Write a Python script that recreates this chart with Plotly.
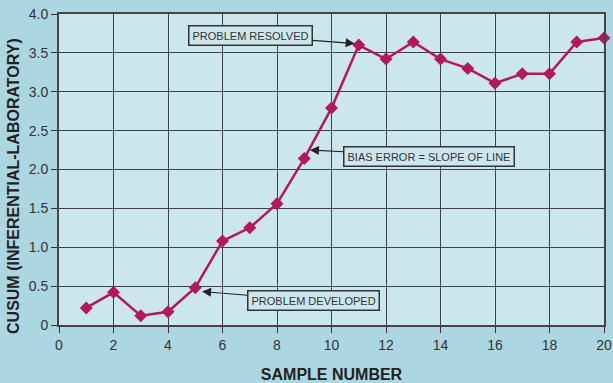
import plotly.graph_objects as go

sample = list(range(1, 21))
cusum = [0.22, 0.42, 0.12, 0.17, 0.48, 1.08, 1.25, 1.56, 2.14, 2.79,
         3.60, 3.42, 3.64, 3.42, 3.30, 3.11, 3.23, 3.23, 3.64, 3.69]
x_ticks = list(range(0, 21, 2))
y_ticks = [0, 0.5, 1.0, 1.5, 2.0, 2.5, 3.0, 3.5, 4.0]
y_ticktext = ["0", "0.5", "1.0", "1.5", "2.0", "2.5", "3.0", "3.5", "4.0"]

LINE = "#b3185c"
PLOT_BG = "#cce6ed"
PAPER_BG = "#acd7e1"
GRID = "#3c4245"
FONT = "Liberation Sans, Arial, sans-serif"

fig = go.Figure()
fig.add_trace(go.Scatter(
    x=sample, y=cusum, mode="lines+markers",
    line=dict(color=LINE, width=2.5),
    marker=dict(symbol="diamond", size=10, color=LINE),
    cliponaxis=False, showlegend=False,
))

ann_style = dict(
    xref="x", yref="y", showarrow=True, arrowhead=2, arrowsize=1.5,
    arrowwidth=1.2, arrowcolor="#222", font=dict(family=FONT, size=11, color="#333"),
    bgcolor=PLOT_BG, bordercolor="#333", borderwidth=1.5, borderpad=3,
)
fig.add_annotation(x=10.85, y=3.62, ax=-104, ay=-8, text="PROBLEM RESOLVED", **ann_style)
fig.add_annotation(x=9.21, y=2.25, ax=119, ay=6, text="BIAS ERROR = SLOPE OF LINE", **ann_style)
fig.add_annotation(x=5.25, y=0.43, ax=111, ay=9, text="PROBLEM DEVELOPED", **ann_style)

# y-axis title (placed as annotation to match the reference offset)
fig.add_annotation(
    xref="paper", yref="paper", x=-0.0826, y=0.447, xanchor="center", yanchor="middle",
    textangle=-90, showarrow=False,
    text="<b>CUSUM (INFERENTIAL-LABORATORY)</b>", font=dict(family=FONT, size=16, color="#222"),
)

fig.update_layout(
    width=613, height=383,
    margin=dict(l=59, r=9, t=14, b=58, autoexpand=False),
    paper_bgcolor=PAPER_BG, plot_bgcolor=PLOT_BG,
    font=dict(family=FONT, size=14, color="#333"),
)
fig.update_xaxes(
    range=[0, 20], tickvals=x_ticks, ticks="outside", ticklen=6, tickcolor="#333",
    showgrid=True, gridcolor=GRID, gridwidth=1.2, zeroline=False,
    showline=True, linecolor="#444", linewidth=2, mirror=True, automargin=False,
    title=dict(text="<b>SAMPLE NUMBER</b>", font=dict(size=16, color="#222"), standoff=19),
)
fig.update_yaxes(
    range=[0, 4], tickvals=y_ticks, ticktext=y_ticktext, ticks="outside", ticklen=6,
    tickcolor="#333",
    showgrid=True, gridcolor=GRID, gridwidth=1.2, zeroline=False,
    showline=True, linecolor="#444", linewidth=2, mirror=True, automargin=False,
)

fig.write_html("out.html", config={"displayModeBar": False},
               post_script="document.body.style.margin='0';")
